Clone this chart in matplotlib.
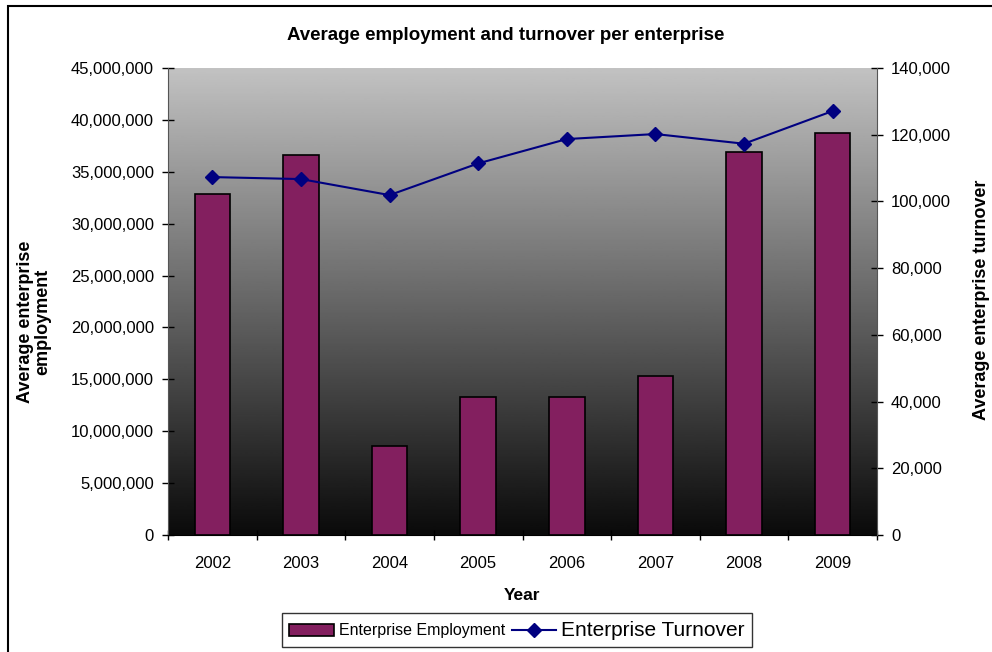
import matplotlib
matplotlib.use('Agg')
import matplotlib.pyplot as plt
from matplotlib.patches import Rectangle
from matplotlib.ticker import FuncFormatter
import numpy as np

plt.rcParams['font.family'] = ['Liberation Sans', 'DejaVu Sans']

# データ
years = ['2002', '2003', '2004', '2005', '2006', '2007', '2008', '2009']
employment = [32900000, 36600000, 8550000, 13250000, 13250000, 15300000, 36950000, 38700000]
turnover = [107300, 106700, 101900, 111400, 118700, 120200, 117300, 127100]

W, H = 992, 652
fig = plt.figure(figsize=(W / 100, H / 100), dpi=100)
fig.patch.set_facecolor('white')

# 外枠
fig.patches.append(Rectangle((8 / W, -0.1), 1.2, 1 - 6 / H + 0.1,
                             transform=fig.transFigure, fill=False,
                             edgecolor='black', linewidth=1.5))

left, right, top, bottom = 168, 877, 68, 535
ax = fig.add_axes([left / W, 1 - bottom / H, (right - left) / W, (bottom - top) / H])

# 背景グラデーション
grad = np.linspace(0.04, 0.76, 256).reshape(-1, 1)
ax.imshow(grad, cmap='gray', vmin=0, vmax=1, origin='lower', aspect='auto',
          extent=[0, 1, 0, 1], transform=ax.transAxes, zorder=0)

x = np.arange(len(years))
ax.bar(x, employment, width=0.4, color='#831F5F', edgecolor='black',
       linewidth=1.2, zorder=2, label='Enterprise Employment')
ax.set_xlim(-0.5, len(years) - 0.5)
ax.set_ylim(0, 45000000)
ax.set_yticks(np.arange(0, 45000001, 5000000))
ax.yaxis.set_major_formatter(FuncFormatter(lambda v, p: f'{int(v):,}'))
ax.set_xticks(x)
ax.set_xticklabels(years)
ax.set_xticks(np.arange(-0.5, len(years), 1), minor=True)
ax.tick_params(axis='x', which='major', length=0, labelsize=12, pad=15)
ax.tick_params(axis='x', which='minor', length=7, direction='inout', width=1)
ax.tick_params(axis='y', length=8, direction='inout', width=1, labelsize=12, pad=6)
for s in ['top', 'right']:
    ax.spines[s].set_visible(False)
ax.spines['left'].set_color('#555555')
ax.spines['bottom'].set_color('black')

ax2 = ax.twinx()
ax2.plot(x, turnover, color='#000080', marker='D', markersize=7.5,
         linewidth=1.5, zorder=3, label='Enterprise Turnover')
ax2.set_ylim(0, 140000)
ax2.set_yticks(np.arange(0, 140001, 20000))
ax2.yaxis.set_major_formatter(FuncFormatter(lambda v, p: f'{int(v):,}'))
ax2.tick_params(axis='y', length=8, direction='inout', width=1, labelsize=12, pad=6)
for s in ['top', 'left', 'bottom']:
    ax2.spines[s].set_visible(False)
ax2.spines['right'].set_color('#555555')

fig.text(506 / W, 1 - 35 / H,
         'Average employment and turnover per enterprise',
         ha='center', va='center', fontsize=13.5, fontweight='bold')
fig.text(0.5 * (left + right) / W, 1 - 596 / H, 'Year',
         ha='center', va='center', fontsize=12.5, fontweight='bold')
fig.text(34 / W, 1 - 322 / H, 'Average enterprise\nemployment', rotation=90,
         ha='center', va='center', fontsize=13, fontweight='bold',
         multialignment='center', linespacing=1.0)
fig.text(982 / W, 1 - 300 / H, 'Average enterprise turnover', rotation=90,
         ha='center', va='center', fontsize=13, fontweight='bold')

h1, l1 = ax.get_legend_handles_labels()
h2, l2 = ax2.get_legend_handles_labels()
leg = fig.legend(h1 + h2, l1 + l2, loc='center', ncol=2,
                 bbox_to_anchor=(517 / W, 1 - 630 / H), frameon=True,
                 fancybox=False, edgecolor='black', fontsize=11.5,
                 handlelength=2.8, handletextpad=0.3, columnspacing=0.4,
                 borderpad=0.45)
leg.get_frame().set_linewidth(1.0)
leg.get_texts()[1].set_fontsize(15)

fig.savefig('out.png', dpi=100)
